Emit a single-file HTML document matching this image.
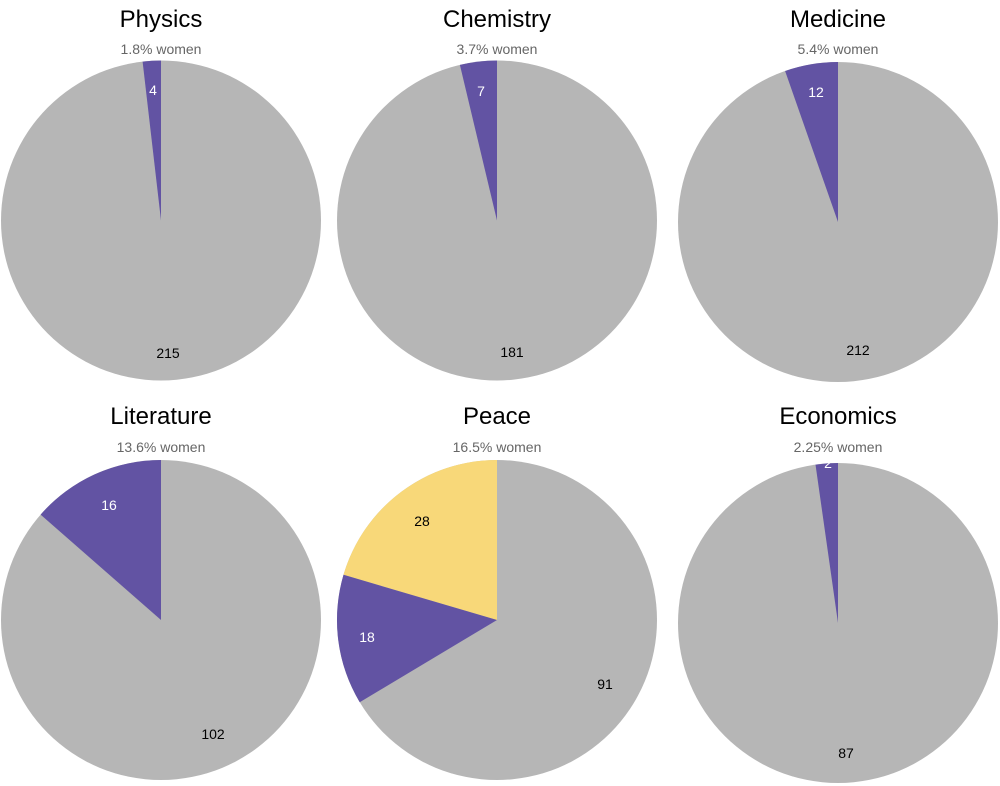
<!DOCTYPE html>
<html><head><style>
html,body{margin:0;padding:0;background:#fff;}
svg{display:block;}
.t{font-family:"Liberation Sans",Arial,sans-serif;font-size:24px;fill:#000;text-anchor:middle;}
.s{font-family:"Liberation Sans",Arial,sans-serif;font-size:14px;fill:#666;text-anchor:middle;}
.l{font-family:"Liberation Sans",Arial,sans-serif;font-size:14px;text-anchor:middle;}
</style></head><body>
<svg width="1000" height="786" viewBox="0 0 1000 786">
<g fill="#b6b6b6">
<circle cx="161" cy="220.5" r="160"/>
<circle cx="497" cy="220.5" r="160"/>
<circle cx="838" cy="222" r="160"/>
<circle cx="161" cy="620" r="160"/>
<circle cx="497" cy="620" r="160"/>
<circle cx="838" cy="623" r="160"/>
</g>
<path d="M161 220.5 L161 60.5 A160 160 0 0 0 142.6 61.6 Z" fill="#6253a3"/>
<path d="M497 220.5 L497 60.5 A160 160 0 0 0 459.9 64.9 Z" fill="#6253a3"/>
<path d="M838 222 L838 62 A160 160 0 0 0 785.1 71 Z" fill="#6253a3"/>
<path d="M161 620 L161 460 A160 160 0 0 0 40.6 514.6 Z" fill="#6253a3"/>
<path d="M497 620 L497 460 A160 160 0 0 0 343.5 574.8 Z" fill="#f8d879"/>
<path d="M497 620 L343.5 574.8 A160 160 0 0 0 359.7 702.2 Z" fill="#6253a3"/>
<path d="M838 623 L838 463 A160 160 0 0 0 815.5 464.6 Z" fill="#6253a3"/>

<text class="t" x="161" y="27">Physics</text>
<text class="t" x="497" y="27">Chemistry</text>
<text class="t" x="838" y="27">Medicine</text>
<text class="t" x="161" y="424">Literature</text>
<text class="t" x="497" y="424">Peace</text>
<text class="t" x="838" y="424">Economics</text>

<text class="s" x="161" y="54">1.8% women</text>
<text class="s" x="497" y="54">3.7% women</text>
<text class="s" x="838" y="54">5.4% women</text>
<text class="s" x="161" y="452">13.6% women</text>
<text class="s" x="497" y="452">16.5% women</text>
<text class="s" x="838" y="452">2.25% women</text>

<text class="l" x="153" y="95" fill="#fff">4</text>
<text class="l" x="168" y="358" fill="#000">215</text>
<text class="l" x="481" y="96" fill="#fff">7</text>
<text class="l" x="512" y="357" fill="#000">181</text>
<text class="l" x="816" y="97" fill="#fff">12</text>
<text class="l" x="858" y="355" fill="#000">212</text>
<text class="l" x="109" y="510" fill="#fff">16</text>
<text class="l" x="213" y="739" fill="#000">102</text>
<text class="l" x="422" y="526" fill="#000">28</text>
<text class="l" x="367" y="642" fill="#fff">18</text>
<text class="l" x="605" y="689" fill="#000">91</text>
<text class="l" x="828" y="468" fill="#fff">2</text>
<text class="l" x="846" y="758" fill="#000">87</text>
</svg>
</body></html>
